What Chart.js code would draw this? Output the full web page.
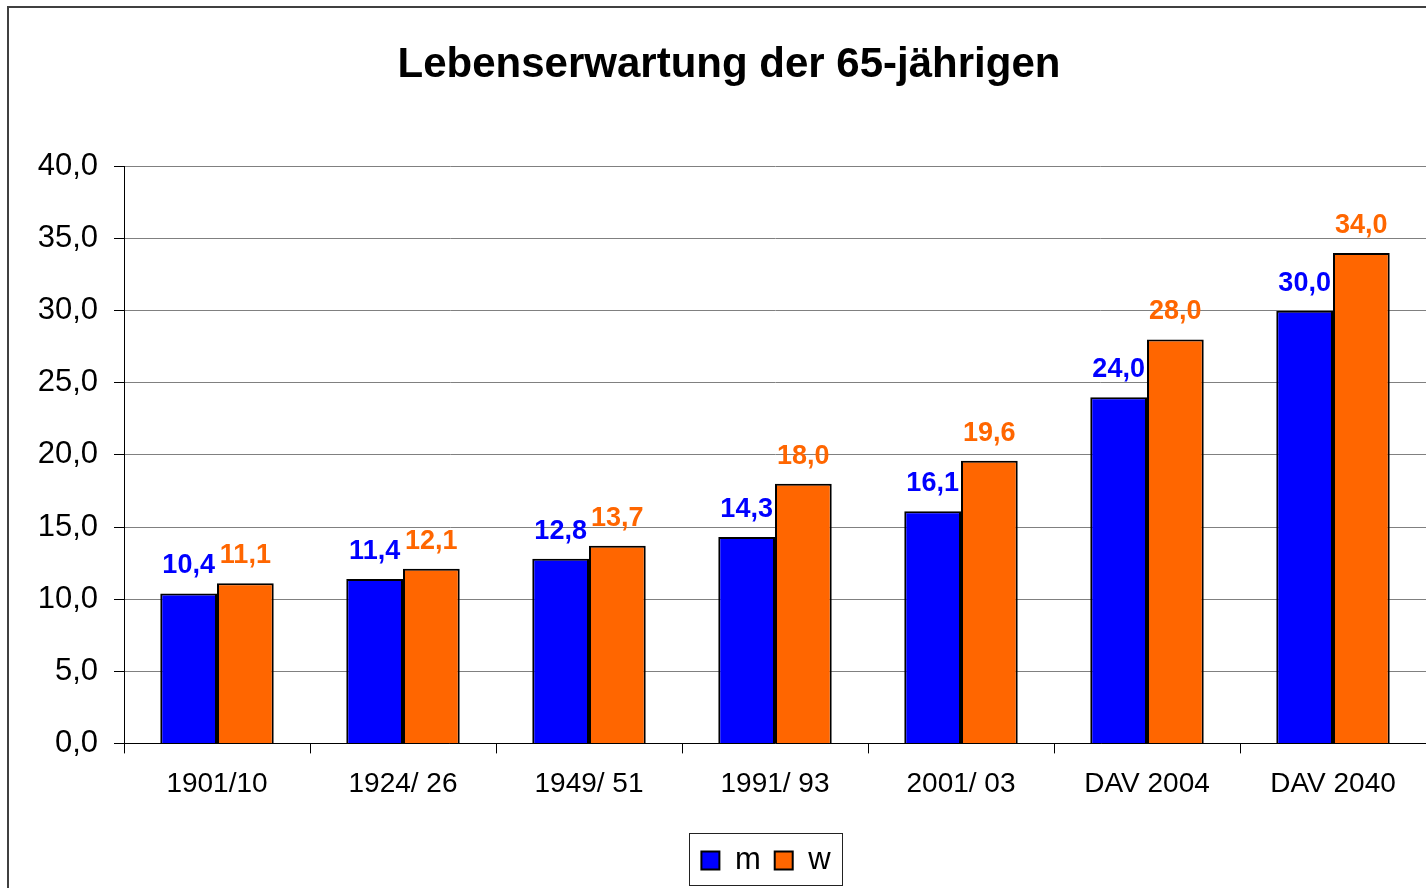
<!DOCTYPE html>
<html lang="de">
<head>
  <meta charset="UTF-8" />
  <title>Lebenserwartung der 65-jährigen</title>
  <style>
    body { margin: 0; background: #fff; }
    canvas { display: block; }
  </style>
  <script src="https://cdn.jsdelivr.net/npm/chart.js"></script>
</head>
<body>
  <canvas id="chart" width="1426" height="888"></canvas>
  <script>
    // DATA
    const categories = ['1901/10', '1924/ 26', '1949/ 51', '1991/ 93', '2001/ 03', 'DAV 2004', 'DAV 2040'];
    const maleValues = [10.4, 11.4, 12.8, 14.3, 16.1, 24.0, 30.0];
    const femaleValues = [11.1, 12.1, 13.7, 18.0, 19.6, 28.0, 34.0];
    const seriesNames = ['m', 'w'];

    const BLUE = '#0000ff';
    const ORANGE = '#ff6600';
    const FONT = '"Liberation Sans", Arial, sans-serif';
    const LEGEND_SHIFT = 37;
    const fmt = v => v.toFixed(1).replace('.', ',');

    // outer frame of the picture
    const framePlugin = {
      id: 'frame',
      beforeDraw(chart) {
        const c = chart.ctx;
        c.save();
        c.strokeStyle = '#404040';
        c.lineWidth = 2;
        c.strokeRect(8, 7, 3000, 3000);
        c.restore();
      }
    };

    // value labels above the bars
    const valueLabels = {
      id: 'valueLabels',
      afterDatasetsDraw(chart) {
        const c = chart.ctx;
        c.save();
        c.font = 'bold 27px ' + FONT;
        c.textAlign = 'center';
        c.textBaseline = 'bottom';
        chart.data.datasets.forEach((ds, i) => {
          const meta = chart.getDatasetMeta(i);
          c.fillStyle = ds.backgroundColor;
          meta.data.forEach((bar, j) => {
            c.fillText(fmt(ds.data[j]), bar.x, bar.y - 14);
          });
        });
        c.restore();
      }
    };

    // legend sits a bit right of centre in the original; draw a box round it
    const legendBox = {
      id: 'legendBox',
      afterLayout(chart) {
        chart.legend.left += LEGEND_SHIFT;
        chart.legend.right += LEGEND_SHIFT;
      },
      afterDraw(chart) {
        const lg = chart.legend;
        const boxes = lg.legendHitBoxes || [];
        if (!boxes.length) return;
        const pad = lg.options.labels.padding;
        const itemsW = boxes.reduce((s, b) => s + b.width, 0) + pad * (boxes.length - 1);
        const w = itemsW + 24;
        const h = 52;
        const cx = (lg.left + lg.right) / 2;
        const cy = lg.top + lg.height / 2;
        const c = chart.ctx;
        c.save();
        c.strokeStyle = '#222';
        c.lineWidth = 1;
        c.strokeRect(Math.round(cx - w / 2) + 0.5, Math.round(cy - h / 2) + 0.5, Math.round(w), h);
        c.restore();
      }
    };

    new Chart(document.getElementById('chart'), {
      type: 'bar',
      data: {
        labels: categories,
        datasets: [
          { label: seriesNames[0], data: maleValues, backgroundColor: BLUE, borderColor: '#000', borderWidth: 2 },
          { label: seriesNames[1], data: femaleValues, backgroundColor: ORANGE, borderColor: '#000', borderWidth: 2 }
        ]
      },
      options: {
        responsive: false,
        animation: false,
        layout: { padding: { left: 32, right: 0, top: 40, bottom: 2 } },
        datasets: { bar: { categoryPercentage: 0.61, barPercentage: 1.0 } },
        plugins: {
          title: {
            display: true,
            text: 'Lebenserwartung der 65-jährigen',
            color: '#000',
            font: { family: FONT, size: 42, weight: 'bold' },
            padding: { top: 0, bottom: 76 }
          },
          legend: {
            position: 'bottom',
            labels: {
              color: '#000',
              font: { family: FONT, size: 31 },
              boxWidth: 18,
              boxHeight: 18,
              padding: 14,
              generateLabels(chart) {
                return chart.data.datasets.map((ds, i) => ({
                  text: ds.label,
                  fillStyle: ds.backgroundColor,
                  strokeStyle: '#000',
                  lineWidth: 2,
                  datasetIndex: i,
                  fontColor: '#000'
                }));
              }
            }
          },
          tooltip: { enabled: false }
        },
        scales: {
          x: {
            offset: true,
            afterFit(scale) { scale.height += 16; },
            grid: { offset: true, drawOnChartArea: false, drawTicks: true, tickLength: 10, color: '#000' },
            border: { color: '#000', width: 1 },
            ticks: { color: '#000', font: { family: FONT, size: 28 }, padding: 14, maxRotation: 0 }
          },
          y: {
            min: 0,
            max: 40,
            afterFit(scale) { scale.width = 92; },
            grid: { color: '#808080', tickColor: '#000', tickLength: 10, lineWidth: 1 },
            border: { color: '#000', width: 1 },
            ticks: { stepSize: 5, color: '#000', font: { family: FONT, size: 31 }, padding: 16, callback: v => fmt(v) }
          }
        }
      },
      plugins: [framePlugin, valueLabels, legendBox]
    });
  </script>
</body>
</html>
